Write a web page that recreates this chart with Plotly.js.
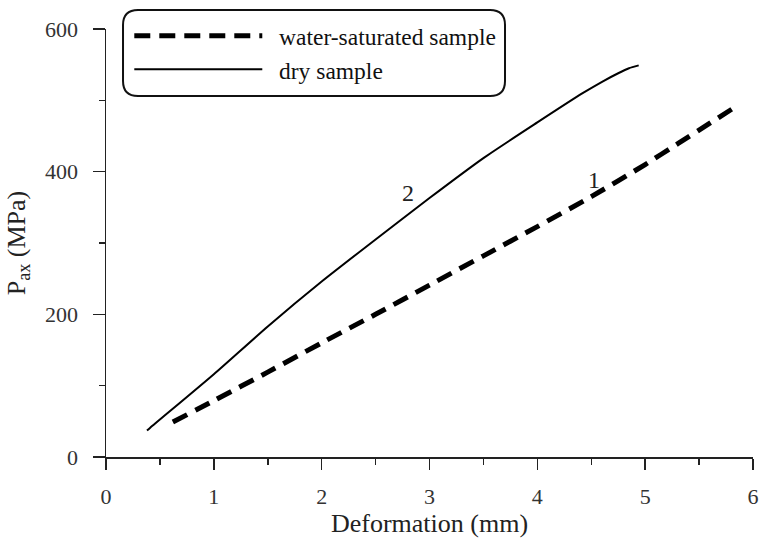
<!DOCTYPE html>
<html>
<head>
<meta charset="utf-8">
<script src="https://cdn.plot.ly/plotly-3.0.1.min.js"></script>
<style>html,body{margin:0;padding:0;background:#fff;}#chart{width:760px;height:539px;}</style>
</head>
<body>
<div id="chart"></div>
<script>
// Curve 1: water-saturated sample
const wetDeformation = [0.62, 1.0, 1.5, 2.0, 2.5, 3.0, 3.5, 4.0, 4.5, 5.0, 5.31, 5.6, 5.87];
const wetPressure    = [49, 79, 119, 160, 200, 241, 282, 323, 365, 410, 440, 468, 494];
// Curve 2: dry sample
const dryDeformation = [0.38, 0.41, 1.0, 1.5, 2.0, 2.5, 3.0, 3.5, 4.0, 4.42, 4.6, 4.75, 4.85, 4.94];
const dryPressure    = [37, 41, 116, 183, 246, 305, 363, 419, 469, 510, 526, 538, 545, 549];

const seriesNames = ["water-saturated sample", "dry sample"];
const curveLabels = ["1", "2"];
const labelX = [4.53, 2.8];
const labelY = [388, 370];

const serif = "Liberation Serif";

const traces = [
  {x: wetDeformation, y: wetPressure, mode: "lines", name: "\u2002" + seriesNames[0],
   line: {color: "#000", width: 5, dash: "16px,9px", shape: "spline", smoothing: 0.5}},
  {x: dryDeformation, y: dryPressure, mode: "lines", name: "\u2002" + seriesNames[1],
   line: {color: "#000", width: 2, shape: "spline", smoothing: 0.6}}
];

// rounded legend frame in paper coords
const bx0 = 0.0263, bx1 = 0.6167, by0 = 0.8435, by1 = 1.0444;
const rx = 15/647, ry = 15/428;
const framePath =
  `M ${bx0+rx},${by1} L ${bx1-rx},${by1} Q ${bx1},${by1} ${bx1},${by1-ry} ` +
  `L ${bx1},${by0+ry} Q ${bx1},${by0} ${bx1-rx},${by0} ` +
  `L ${bx0+rx},${by0} Q ${bx0},${by0} ${bx0},${by0+ry} ` +
  `L ${bx0},${by1-ry} Q ${bx0},${by1} ${bx0+rx},${by1} Z`;

const layout = {
  width: 760, height: 539,
  margin: {l: 106, r: 7, t: 29, b: 82},
  paper_bgcolor: "#fff", plot_bgcolor: "#fff",
  font: {family: serif, color: "#222"},
  showlegend: true,
  legend: {x: 0.036, y: 1.035, xanchor: "left", yanchor: "top",
           bgcolor: "rgba(0,0,0,0)", borderwidth: 0,
           font: {family: serif, size: 23.5, color: "#111"},
           itemwidth: 128, tracegroupgap: 0},
  xaxis: {range: [0, 6], showgrid: false, zeroline: false, showline: true,
          linecolor: "#222", linewidth: 1.5,
          ticks: "outside", ticklen: 11, tickwidth: 1.5, tickcolor: "#222",
          dtick: 1, tick0: 0,
          minor: {dtick: 0.5, ticks: "outside", ticklen: 6, tickwidth: 1.5, tickcolor: "#222"},
          tickfont: {family: serif, size: 22, color: "#333"},
          ticklabelstandoff: 8,
          title: {text: "Deformation (mm)", font: {family: serif, size: 26, color: "#222"}, standoff: 0}},
  yaxis: {range: [0, 600], showgrid: false, zeroline: false, showline: true,
          linecolor: "#222", linewidth: 1.5,
          ticks: "outside", ticklen: 12, tickwidth: 1.5, tickcolor: "#222",
          dtick: 200, tick0: 0,
          minor: {dtick: 100, ticks: "outside", ticklen: 6, tickwidth: 1.5, tickcolor: "#222"},
          tickfont: {family: serif, size: 22, color: "#333"},
          ticklabelstandoff: 10,
          title: {text: "P<sub>ax</sub> (MPa)", font: {family: serif, size: 26, color: "#222"}, standoff: 12}},
  shapes: [{type: "path", xref: "paper", yref: "paper", path: framePath,
            line: {color: "#111", width: 2}, fillcolor: "rgba(0,0,0,0)"}],
  annotations: curveLabels.map((t, i) => ({
    x: labelX[i], y: labelY[i], xref: "x", yref: "y", text: t, showarrow: false,
    font: {family: serif, size: 24, color: "#222"}
  }))
};

Plotly.newPlot("chart", traces, layout, {displayModeBar: false, staticPlot: true});
</script>
</body>
</html>
